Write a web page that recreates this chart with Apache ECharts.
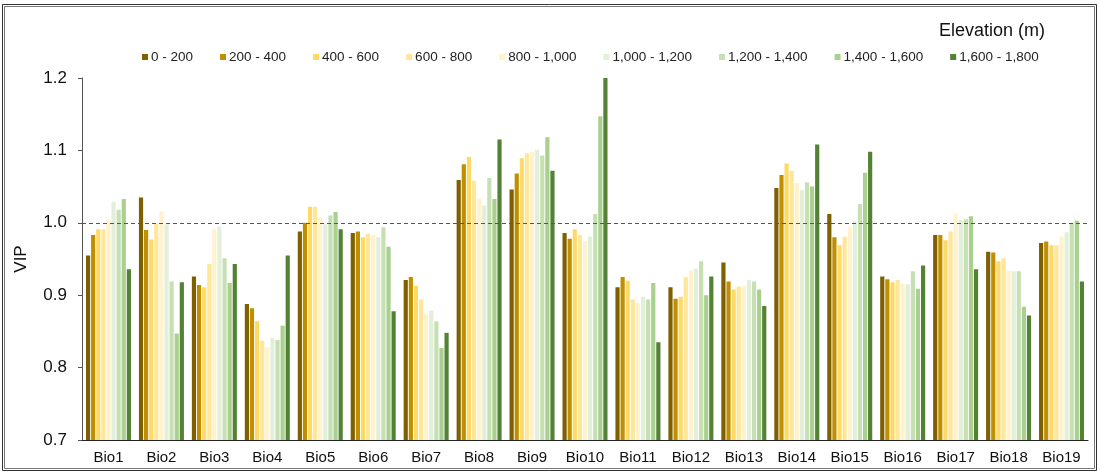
<!DOCTYPE html>
<html>
<head>
<meta charset="utf-8">
<script src="https://cdn.jsdelivr.net/npm/echarts@6/dist/echarts.min.js"></script>
<style>
  html, body { margin: 0; padding: 0; background: #fff; }
  #chart { width: 1100px; height: 475px; }
</style>
</head>
<body>
<div id="chart"></div>
<script>
// Bioclimatic variables on the x axis
const categories = ['Bio1','Bio2','Bio3','Bio4','Bio5','Bio6','Bio7','Bio8','Bio9','Bio10',
  'Bio11','Bio12','Bio13','Bio14','Bio15','Bio16','Bio17','Bio18','Bio19'];

// Elevation bands (m)
const bands = ['0 - 200','200 - 400','400 - 600','600 - 800','800 - 1,000',
  '1,000 - 1,200','1,200 - 1,400','1,400 - 1,600','1,600 - 1,800'];

const bandColors = ['#7F6000','#BF8F00','#FFD966','#FFE699','#FFF2CC',
  '#E2EFDA','#C6E0B4','#A9D08E','#548235'];

// VIP scores per elevation band, one value per Bio variable
const vip0_200 =     [0.955,1.035,0.926,0.888,0.988,0.986,0.921,1.059,1.046,0.986,0.911,0.911,0.945,1.048,1.012,0.926,0.983,0.960,0.972];
const vip200_400 =   [0.983,0.990,0.914,0.882,1.000,0.988,0.925,1.081,1.068,0.978,0.925,0.895,0.919,1.066,0.980,0.922,0.983,0.959,0.974];
const vip400_600 =   [0.991,0.977,0.911,0.864,1.022,0.980,0.913,1.091,1.089,0.991,0.920,0.898,0.908,1.082,0.969,0.918,0.976,0.947,0.969];
const vip600_800 =   [0.991,0.999,0.943,0.837,1.022,0.985,0.894,1.058,1.096,0.983,0.894,0.925,0.912,1.072,0.981,0.921,0.988,0.951,0.969];
const vip800_1000 =  [1.005,1.016,0.991,0.828,1.007,0.983,0.874,1.033,1.098,0.975,0.889,0.934,0.913,1.055,0.995,0.916,1.013,0.934,0.981];
const vip1000_1200 = [1.029,0.998,0.995,0.841,0.998,0.980,0.879,1.024,1.101,0.981,0.898,0.937,0.921,1.045,1.002,0.915,1.004,0.933,0.987];
const vip1200_1400 = [1.018,0.919,0.951,0.838,1.010,0.994,0.864,1.062,1.093,1.012,0.894,0.947,0.919,1.056,1.026,0.933,1.005,0.933,1.000];
const vip1400_1600 = [1.033,0.847,0.917,0.858,1.015,0.967,0.827,1.033,1.118,1.147,0.917,0.900,0.908,1.050,1.069,0.909,1.009,0.884,1.003];
const vip1600_1800 = [0.936,0.918,0.943,0.955,0.991,0.878,0.848,1.115,1.072,1.201,0.835,0.926,0.885,1.108,1.098,0.941,0.936,0.872,0.919];

const seriesValues = [vip0_200, vip200_400, vip400_600, vip600_800, vip800_1000,
  vip1000_1200, vip1200_1400, vip1400_1600, vip1600_1800];

// y axis ticks
const yMin = 0.7, yMax = 1.2, yStep = 0.1;
const threshold = 1.0;

const FONT = '"Liberation Sans", Arial, sans-serif';

const series = bands.map((name, i) => ({
  name: name,
  type: 'bar',
  data: seriesValues[i],
  barGap: '22%',
  barCategoryGap: '15%',
  itemStyle: { color: bandColors[i] },
  emphasis: { disabled: true }
}));

// dashed reference line at VIP = 1.0
series[0].markLine = {
  silent: true,
  symbol: 'none',
  label: { show: false },
  lineStyle: { color: '#555', type: [4, 3], width: 1.2 },
  data: [{ yAxis: threshold }]
};

const chart = echarts.init(document.getElementById('chart'), null, { renderer: 'canvas' });
chart.setOption({
  animation: false,
  backgroundColor: '#fff',
  textStyle: { fontFamily: FONT },
  grid: { left: 82, right: 12, top: 78, bottom: 35 },
  title: {
    text: 'Elevation (m)',
    right: 50, top: 17,
    textStyle: { fontFamily: FONT, fontSize: 18, fontWeight: 'normal', color: '#111' }
  },
  legend: {
    data: bands,
    left: 137, top: 45,
    itemWidth: 6, itemHeight: 6, itemGap: 27,
    icon: 'rect',
    textStyle: { fontFamily: FONT, fontSize: 13.5, color: '#222', padding: [0, 0, 0, -2] }
  },
  xAxis: {
    type: 'category',
    data: categories,
    axisLine: { lineStyle: { color: '#222', width: 1 } },
    axisTick: { show: false },
    axisLabel: { color: '#111', fontSize: 15, fontFamily: FONT, margin: 10 }
  },
  yAxis: {
    type: 'value',
    name: 'VIP',
    nameLocation: 'middle',
    nameGap: 52,
    nameTextStyle: { fontFamily: FONT, fontSize: 17, color: '#111' },
    min: yMin, max: yMax, interval: yStep,
    axisLine: { show: true, lineStyle: { color: '#555', width: 1 } },
    axisTick: { show: true, length: 4, lineStyle: { color: '#555' } },
    splitLine: { show: false },
    axisLabel: {
      color: '#111', fontSize: 17, fontFamily: FONT, margin: 15,
      formatter: v => v.toFixed(1)
    }
  },
  graphic: [
    { type: 'rect', shape: { x: 2.5, y: 4.5, width: 1094, height: 466 },
      style: { fill: 'none', stroke: '#333', lineWidth: 1 }, silent: true },
    { type: 'rect', shape: { x: 4.5, y: 6.5, width: 1090, height: 462 },
      style: { fill: 'none', stroke: '#777', lineWidth: 1 }, silent: true }
  ],
  series: series
});
</script>
</body>
</html>
